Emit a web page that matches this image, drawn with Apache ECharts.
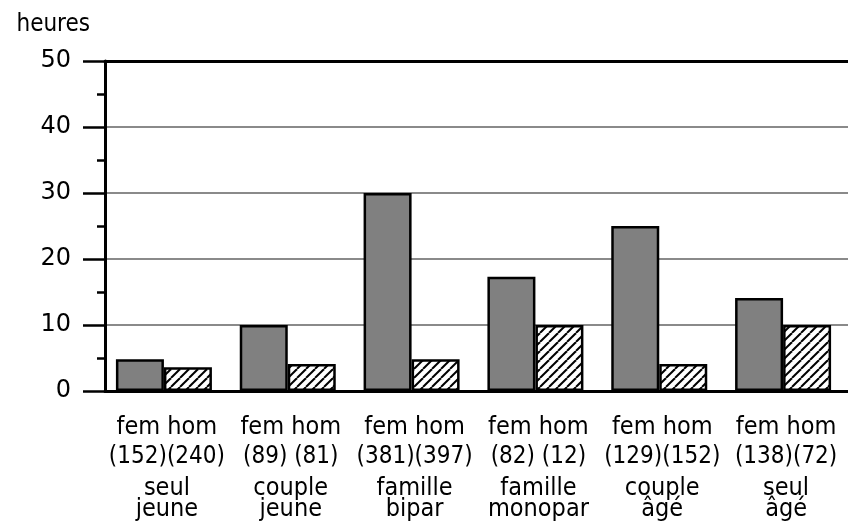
<!DOCTYPE html>
<html>
<head>
<meta charset="utf-8">
<script src="https://cdn.jsdelivr.net/npm/echarts@6/dist/echarts.min.js"></script>
<style>
  html, body { margin: 0; padding: 0; background: #fff; }
  #chart { width: 848px; height: 524px; }
</style>
</head>
<body>
<div id="chart"></div>
<script>
// household types (two text lines each)
const groupTop = ["seul", "couple", "famille", "famille", "couple", "seul"];
const groupBottom = ["jeune", "jeune", "bipar", "monopar", "âgé", "âgé"];
// sample sizes
const nFem = [152, 89, 381, 82, 129, 138];
const nHom = [240, 81, 397, 12, 152, 72];
// hours
const femHours = [4.8, 10, 30, 17.3, 25, 14.1];
const homHours = [3.6, 4.1, 4.8, 10, 4.1, 10];
const yTicks = [0, 10, 20, 30, 40, 50];

const categories = groupTop.map((t, i) => t + " " + groupBottom[i]);

function hatch() {
  const c = document.createElement("canvas");
  const s = 9;
  c.width = s;
  c.height = s;
  const ctx = c.getContext("2d");
  ctx.fillStyle = "#fff";
  ctx.fillRect(0, 0, s, s);
  ctx.strokeStyle = "#000";
  ctx.lineWidth = 2;
  [-s, 0, s].forEach(k => {
    ctx.beginPath();
    ctx.moveTo(k, s);
    ctx.lineTo(k + s, 0);
    ctx.stroke();
  });
  return c;
}

function countLabel(i) {
  const sep = nFem[i] < 100 && nHom[i] < 100 ? " " : "";
  return "(" + nFem[i] + ")" + sep + "(" + nHom[i] + ")";
}

const font = "'DejaVu Sans Condensed', 'DejaVu Sans'";
const chart = echarts.init(document.getElementById("chart"));
chart.setOption({
  animation: false,
  textStyle: { fontFamily: font, color: "#000" },
  grid: { left: 105, right: 0, top: 61, bottom: 133 },
  xAxis: [
    {
      type: "category",
      data: categories,
      axisLine: { lineStyle: { color: "#000", width: 3 } },
      axisTick: { length: 6, lineStyle: { color: "#000", width: 2 } },
      axisLabel: {
        interval: 0,
        margin: 21,
        formatter: (v, i) =>
          "{a|fem hom}\n{b|" + countLabel(i) + "}\n{c|" + groupTop[i] + "}\n{d|" + groupBottom[i] + "}",
        rich: {
          a: { fontFamily: font, fontSize: 25, lineHeight: 30, color: "#000" },
          b: { fontFamily: font, fontSize: 24, lineHeight: 30, color: "#000" },
          c: { fontFamily: font, fontSize: 25, lineHeight: 20, padding: [12, 0, 0, 0], color: "#000" },
          d: { fontFamily: font, fontSize: 25, lineHeight: 34, color: "#000" }
        }
      }
    },
    {
      type: "category",
      position: "top",
      data: categories,
      axisLine: { lineStyle: { color: "#000", width: 3 } },
      axisTick: { show: false },
      axisLabel: { show: false }
    }
  ],
  yAxis: {
    type: "value",
    min: yTicks[0],
    max: yTicks[yTicks.length - 1],
    interval: 10,
    name: "heures",
    nameLocation: "end",
    nameGap: 36,
    nameTextStyle: {
      fontFamily: font,
      fontSize: 24,
      color: "#000",
      align: "right",
      verticalAlign: "middle",
      padding: [0, 15, 0, 0]
    },
    axisLine: { show: true, lineStyle: { color: "#000", width: 3 } },
    axisTick: { show: true, length: 22, lineStyle: { color: "#000", width: 2.5 } },
    minorTick: { show: true, splitNumber: 2, length: 8, lineStyle: { color: "#000", width: 2.5 } },
    axisLabel: { margin: 34, fontSize: 24, color: "#000", fontFamily: "DejaVu Sans" },
    splitLine: { lineStyle: { color: "#8a8a8a", width: 2 } }
  },
  series: [
    {
      name: "fem",
      type: "bar",
      data: femHours,
      barWidth: 48,
      barGap: "0%",
      itemStyle: { color: "#808080", borderColor: "#000", borderWidth: 2.5 }
    },
    {
      name: "hom",
      type: "bar",
      data: homHours,
      barWidth: 48,
      barGap: "0%",
      itemStyle: {
        color: { image: hatch(), repeat: "repeat" },
        borderColor: "#000",
        borderWidth: 2.5
      }
    },
    {
      // empty slot: the original groups sit a little left of centre
      name: "spacer",
      type: "bar",
      data: [],
      barWidth: 6,
      barGap: "0%"
    }
  ]
});
</script>
</body>
</html>
